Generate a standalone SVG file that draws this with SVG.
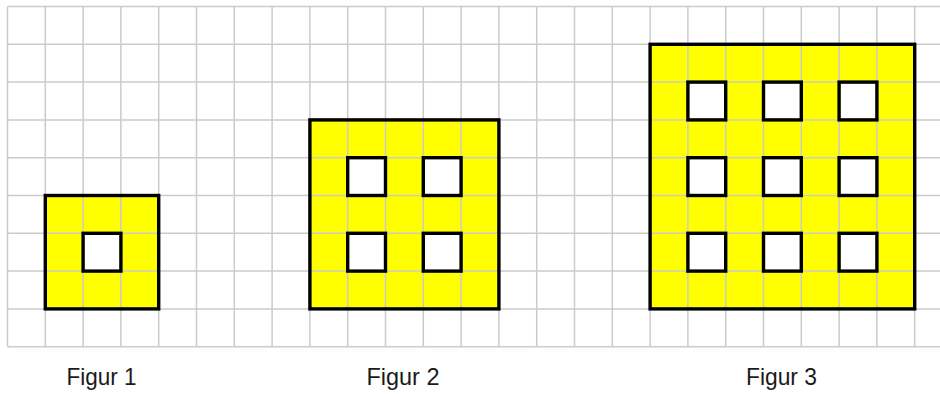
<svg xmlns="http://www.w3.org/2000/svg" width="940" height="394" viewBox="0 0 940 394">
<style>
.fill{fill:#ffff00;stroke:none}
.grid{stroke:#cbcbcb;stroke-width:1.5;fill:none}
.out{fill:none;stroke:#000;stroke-width:3.4;stroke-linejoin:miter}
.hole{fill:#fff;stroke:#000;stroke-width:3.4}
.lbl{font-family:"Liberation Sans",Arial,sans-serif;font-size:24px;fill:#1a1a1a}
</style>
<rect width="940" height="394" fill="#fff"/>
<g id="fills">
<rect class="fill" x="45.3" y="195.5" width="113.4" height="113.4"/>
<rect class="fill" x="309.9" y="119.9" width="189" height="189"/>
<rect class="fill" x="650.1" y="44.3" width="264.6" height="264.6"/>
</g>
<g id="grid">
<path class="grid" d="M7.5 6.5V346.7M45.3 6.5V346.7M83.1 6.5V346.7M120.9 6.5V346.7M158.7 6.5V346.7M196.5 6.5V346.7M234.3 6.5V346.7M272.1 6.5V346.7M309.9 6.5V346.7M347.7 6.5V346.7M385.5 6.5V346.7M423.3 6.5V346.7M461.1 6.5V346.7M498.9 6.5V346.7M536.7 6.5V346.7M574.5 6.5V346.7M612.3 6.5V346.7M650.1 6.5V346.7M687.9 6.5V346.7M725.7 6.5V346.7M763.5 6.5V346.7M801.3 6.5V346.7M839.1 6.5V346.7M876.9 6.5V346.7M914.7 6.5V346.7"/>
<path class="grid" d="M7.5 6.5H940M7.5 44.3H940M7.5 82.1H940M7.5 119.9H940M7.5 157.7H940M7.5 195.5H940M7.5 233.3H940M7.5 271.1H940M7.5 308.9H940M7.5 346.7H940"/>
</g>
<g id="figur1">
<rect class="out" x="45.3" y="195.5" width="113.4" height="113.4"/>
<rect class="hole" x="83.1" y="233.3" width="37.8" height="37.8"/>
<text class="lbl" x="66.5" y="384.5" textLength="70" lengthAdjust="spacingAndGlyphs">Figur 1</text>
</g>
<g id="figur2">
<rect class="out" x="309.9" y="119.9" width="189" height="189"/>
<rect class="hole" x="347.7" y="157.7" width="37.8" height="37.8"/>
<rect class="hole" x="423.3" y="157.7" width="37.8" height="37.8"/>
<rect class="hole" x="347.7" y="233.3" width="37.8" height="37.8"/>
<rect class="hole" x="423.3" y="233.3" width="37.8" height="37.8"/>
<text class="lbl" x="366.5" y="384.5" textLength="73" lengthAdjust="spacingAndGlyphs">Figur 2</text>
</g>
<g id="figur3">
<rect class="out" x="650.1" y="44.3" width="264.6" height="264.6"/>
<rect class="hole" x="687.9" y="82.1" width="37.8" height="37.8"/>
<rect class="hole" x="763.5" y="82.1" width="37.8" height="37.8"/>
<rect class="hole" x="839.1" y="82.1" width="37.8" height="37.8"/>
<rect class="hole" x="687.9" y="157.7" width="37.8" height="37.8"/>
<rect class="hole" x="763.5" y="157.7" width="37.8" height="37.8"/>
<rect class="hole" x="839.1" y="157.7" width="37.8" height="37.8"/>
<rect class="hole" x="687.9" y="233.3" width="37.8" height="37.8"/>
<rect class="hole" x="763.5" y="233.3" width="37.8" height="37.8"/>
<rect class="hole" x="839.1" y="233.3" width="37.8" height="37.8"/>
<text class="lbl" x="746" y="384.5" textLength="71" lengthAdjust="spacingAndGlyphs">Figur 3</text>
</g>
</svg>
